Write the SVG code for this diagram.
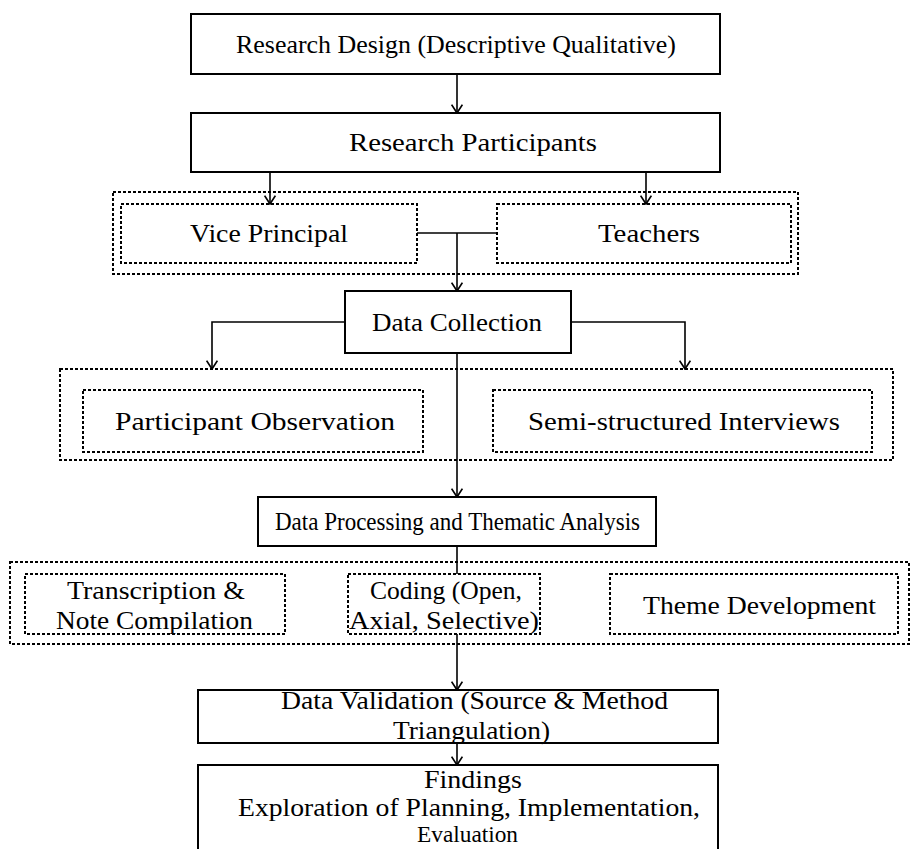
<svg xmlns="http://www.w3.org/2000/svg" width="912" height="849" viewBox="0 0 912 849">
<style>
  .box { fill: #fff; stroke: #000; stroke-width: 2; }
  .dot { fill: none; stroke: #000; stroke-width: 2; stroke-dasharray: 3 2; }
  .con { fill: none; stroke: #000; stroke-width: 1.6; }
  text { font-family: "Liberation Serif", "Times New Roman", serif; font-size: 26px; fill: #000; }
</style>
<defs>
  <marker id="arr" viewBox="0 0 10 10" refX="9.5" refY="5" markerWidth="12" markerHeight="12" markerUnits="userSpaceOnUse" orient="auto">
    <path d="M2.5,0.5 L9.5,5 L2.5,9.5" fill="none" stroke="#000" stroke-width="1.4"/>
  </marker>
</defs>
<rect x="0" y="0" width="912" height="849" fill="#fff"/>

<g id="group-participants">
  <rect class="dot" x="113" y="192" width="685" height="82"/>
</g>
<g id="group-collection">
  <rect class="dot" x="60" y="369" width="833" height="91"/>
</g>
<g id="group-processing">
  <rect class="dot" x="10" y="562" width="899" height="82"/>
</g>

<g id="connectors">
  <line class="con" x1="457" y1="74" x2="457" y2="113" marker-end="url(#arr)"/>
  <line class="con" x1="270" y1="172" x2="270" y2="204" marker-end="url(#arr)"/>
  <line class="con" x1="646" y1="172" x2="646" y2="204" marker-end="url(#arr)"/>
  <line class="con" x1="417" y1="233" x2="497" y2="233"/>
  <line class="con" x1="457" y1="233" x2="457" y2="291" marker-end="url(#arr)"/>
  <polyline class="con" points="345,322 212,322 212,369" marker-end="url(#arr)"/>
  <polyline class="con" points="571,322 685,322 685,369" marker-end="url(#arr)"/>
  <line class="con" x1="457" y1="353" x2="457" y2="497" marker-end="url(#arr)"/>
  <line class="con" x1="457" y1="546" x2="457" y2="574"/>
  <line class="con" x1="457" y1="634" x2="457" y2="690" marker-end="url(#arr)"/>
  <line class="con" x1="457" y1="743" x2="457" y2="765" marker-end="url(#arr)"/>
</g>

<g id="research-design">
  <rect class="box" x="191" y="14" width="529" height="60"/>
  <text x="236" y="53" textLength="440" lengthAdjust="spacingAndGlyphs">Research Design (Descriptive Qualitative)</text>
</g>
<g id="research-participants">
  <rect class="box" x="191" y="113" width="529" height="59"/>
  <text x="349" y="151" textLength="248" lengthAdjust="spacingAndGlyphs">Research Participants</text>
</g>
<g id="vice-principal">
  <rect class="dot" x="121" y="204" width="296" height="59"/>
  <text x="190" y="242" textLength="158" lengthAdjust="spacingAndGlyphs">Vice Principal</text>
</g>
<g id="teachers">
  <rect class="dot" x="497" y="204" width="294" height="59"/>
  <text x="598" y="242" textLength="102" lengthAdjust="spacingAndGlyphs">Teachers</text>
</g>
<g id="data-collection">
  <rect class="box" x="345" y="291" width="226" height="62"/>
  <text x="372" y="331" textLength="170" lengthAdjust="spacingAndGlyphs">Data Collection</text>
</g>
<g id="participant-observation">
  <rect class="dot" x="83" y="390" width="340" height="62"/>
  <text x="115" y="430" textLength="280" lengthAdjust="spacingAndGlyphs">Participant Observation</text>
</g>
<g id="semi-structured-interviews">
  <rect class="dot" x="493" y="390" width="379" height="62"/>
  <text x="528" y="430" textLength="312" lengthAdjust="spacingAndGlyphs">Semi-structured Interviews</text>
</g>
<g id="data-processing">
  <rect class="box" x="258" y="497" width="398" height="49"/>
  <text x="275" y="530" textLength="365" lengthAdjust="spacingAndGlyphs">Data Processing and Thematic Analysis</text>
</g>
<g id="transcription">
  <rect class="dot" x="25" y="574" width="260" height="60"/>
  <text x="67" y="599" textLength="178" lengthAdjust="spacingAndGlyphs">Transcription &amp;</text>
  <text x="56" y="629" textLength="197" lengthAdjust="spacingAndGlyphs">Note Compilation</text>
</g>
<g id="coding">
  <rect class="dot" x="348" y="574" width="192" height="60"/>
  <text x="370" y="599" textLength="152" lengthAdjust="spacingAndGlyphs">Coding (Open,</text>
  <text x="349" y="629" textLength="190" lengthAdjust="spacingAndGlyphs">Axial, Selective)</text>
</g>
<g id="theme-development">
  <rect class="dot" x="610" y="574" width="288" height="60"/>
  <text x="643" y="614" textLength="233" lengthAdjust="spacingAndGlyphs">Theme Development</text>
</g>
<g id="data-validation">
  <rect class="box" x="198" y="690" width="520" height="53"/>
  <text x="281" y="709" textLength="387" lengthAdjust="spacingAndGlyphs">Data Validation (Source &amp; Method</text>
  <text x="393" y="739" textLength="157" lengthAdjust="spacingAndGlyphs">Triangulation)</text>
</g>
<g id="findings">
  <rect class="box" x="198" y="765" width="520" height="100"/>
  <text x="424" y="788" textLength="98" lengthAdjust="spacingAndGlyphs">Findings</text>
  <text x="238" y="816" textLength="462" lengthAdjust="spacingAndGlyphs">Exploration of Planning, Implementation,</text>
  <text x="417" y="842" textLength="101" lengthAdjust="spacingAndGlyphs" style="font-size:24px">Evaluation</text>
</g>
</svg>
